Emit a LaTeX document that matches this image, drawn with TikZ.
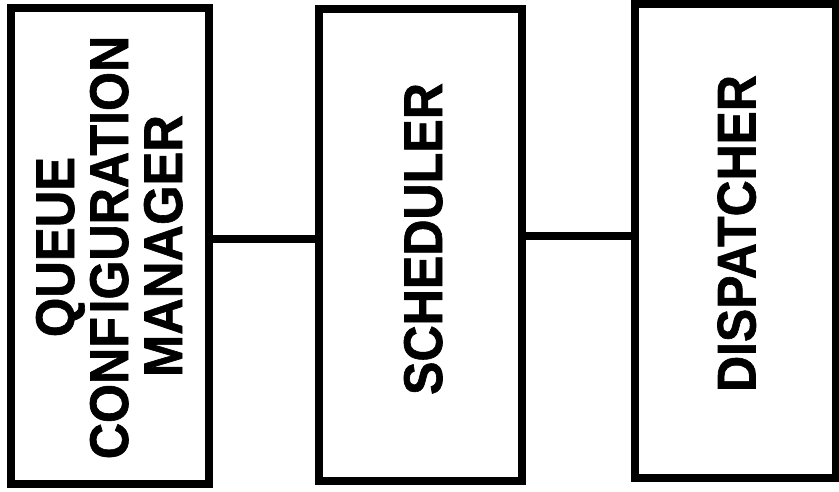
\documentclass[tikz,border=0pt]{standalone}
\usepackage{fontspec}
\setmainfont[Ligatures=NoCommon]{Liberation Sans}
\newfontfamily\heavyfont[Ligatures=NoCommon,FakeBold=1.2]{Liberation Sans Bold}
\begin{document}
\begin{tikzpicture}[x=1pt,y=1pt,
  blk/.style={draw=black, line width=8pt, rectangle, inner sep=0pt},
  lbl/.style={rotate=90, inner sep=0pt, text height=39pt, text depth=0pt,
    font=\fontsize{54.5}{54.5}\selectfont\heavyfont},
  link/.style={draw=black, line width=8pt}]
\useasboundingbox (0,0) rectangle (839,491);
\node[blk, minimum width=198pt, minimum height=476pt] (qcm) at (110,245) {};
\node[blk, minimum width=203pt, minimum height=472pt] (sch) at (420.5,246) {};
\node[blk, minimum width=201pt, minimum height=474pt] (dis) at (735.5,250) {};
\node[lbl] (t1) at (54.5,244) {\scalebox{0.93}[1]{QUEUE}};
\node[lbl] (t2) at (108.5,243.5) {\scalebox{0.92}[1]{CONF\kern4pt IGURATION}};
\node[lbl] (t3) at (162.5,245) {\scalebox{0.93}[1]{MANAGER}};
\node[lbl] (t4) at (422.5,252) {\scalebox{0.92}[1]{SCHEDULER}};
\node[lbl] (t5) at (736,257.5) {\scalebox{0.915}[1]{DISPATCHER}};
\draw[link] (qcm.east |- 0,252) -- (sch.west |- 0,252);
\draw[link] (sch.east |- 0,255) -- (dis.west |- 0,255);
\end{tikzpicture}
\end{document}
